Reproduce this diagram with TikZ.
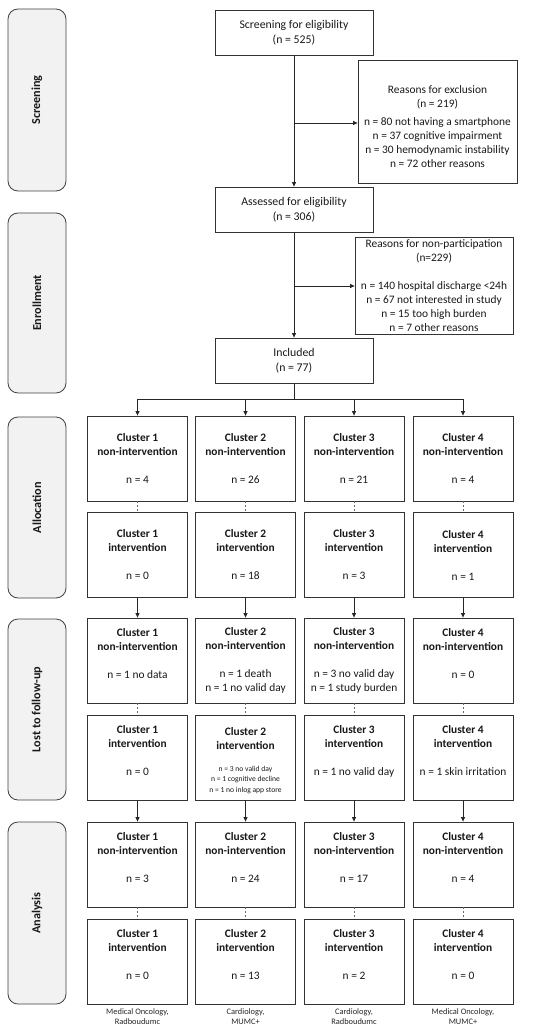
\documentclass[tikz,border=0pt]{standalone}
\usepackage{fontspec}
\setmainfont{Carlito}
\usetikzlibrary{arrows.meta}
\begin{document}
\begin{tikzpicture}[x=1pt,y=-1pt,
  box/.style={draw=black!80, line width=0.8pt, fill=white, align=center, inner sep=0pt, font=\fontsize{11.4}{14}\selectfont, text=black!90},
  bigbox/.style={box, minimum width=158pt, minimum height=45pt, font=\fontsize{11.8}{15.5}\selectfont},
  txt/.style={align=center, inner sep=0pt, font=\fontsize{11.4}{14}\selectfont, text=black!90},
  side/.style={draw=black!75, line width=0.8pt, fill=black!5, rounded corners=10pt, minimum width=58pt, inner sep=0pt},
  sidetext/.style={rotate=90, inner sep=0pt, font=\bfseries\fontsize{12.2}{14}\selectfont, text=black!90},
  cbox/.style={box, minimum width=100pt, minimum height=85pt},
  arr/.style={draw=black!85, line width=0.8pt, -{Triangle[length=4.5pt,width=4pt]}},
  ln/.style={draw=black!85, line width=0.8pt},
  dsh/.style={draw=black!60, line width=0.6pt, dash pattern=on 2pt off 2pt},
  note/.style={align=center, inner sep=0pt, font=\fontsize{8.4}{9.5}\selectfont, text=black!85}
]
\useasboundingbox (0,0) rectangle (550,1032);

% side phase boxes
\node[side, minimum height=182pt] (s1) at (37,100) {};
\node[side, minimum height=180pt] (s2) at (37,303) {};
\node[side, minimum height=181pt] (s3) at (37,507.5) {};
\node[side, minimum height=181pt] (s4) at (37,709.5) {};
\node[side, minimum height=182pt] (s5) at (37,913) {};
\begin{scope}[y=1pt]
\node[sidetext] (s1t) at (37,-100) {Screening};
\node[sidetext] (s2t) at (37,-303) {Enrollment};
\node[sidetext] (s3t) at (37,-507.5) {Allocation};
\node[sidetext] (s4t) at (37,-709.5) {Lost to follow-up};
\node[sidetext] (s5t) at (37,-913) {Analysis};
\end{scope}

% top flow
\node[bigbox] (screen) at (294,32.5) {Screening for eligibility\\(n = 525)};
\node[box, minimum width=159pt, minimum height=123pt] (excl) at (437.5,121.5) {};
\node[txt] (exclt) at (437.5,126.5) {Reasons for exclusion\\(n = 219)\\[4pt]n = 80 not having a smartphone\\n = 37 cognitive impairment\\n = 30 hemodynamic instability\\n = 72 other reasons};
\node[bigbox] (assess) at (294,209.5) {Assessed for eligibility\\(n = 306)};
\node[box, minimum width=158pt, minimum height=97pt] (nonpart) at (434,285.5) {Reasons for non-participation\\(n=229)\\[14pt]n = 140 hospital discharge <24h\\n = 67 not interested in study\\n = 15 too high burden\\n = 7 other reasons};
\node[bigbox] (incl) at (294,360.5) {Included\\(n = 77)};

\draw[arr] (screen) -- (assess);
\coordinate (b1) at (294,123);
\draw[arr] (b1) -- (excl.west |- b1);
\draw[arr] (assess) -- (incl);
\coordinate (b2) at (294,286);
\draw[arr] (b2) -- (nonpart.west |- b2);

% cluster grid
% row 1: allocation non-intervention
\node[cbox] (c11) at (137.5,458.5) {\textbf{Cluster 1}\\\textbf{non-intervention}\\[14pt]n = 4};
\node[cbox] (c12) at (245.5,458.5) {\textbf{Cluster 2}\\\textbf{non-intervention}\\[14pt]n = 26};
\node[cbox] (c13) at (354,458.5) {\textbf{Cluster 3}\\\textbf{non-intervention}\\[14pt]n = 21};
\node[cbox] (c14) at (463,458.5) {\textbf{Cluster 4}\\\textbf{non-intervention}\\[14pt]n = 4};
% row 2: allocation intervention
\node[cbox] (c21) at (137.5,555) {\textbf{Cluster 1}\\\textbf{intervention}\\[14pt]n = 0};
\node[cbox] (c22) at (245.5,555) {\textbf{Cluster 2}\\\textbf{intervention}\\[14pt]n = 18};
\node[cbox] (c23) at (354,555) {\textbf{Cluster 3}\\\textbf{intervention}\\[14pt]n = 3};
\node[cbox] (c24) at (463,555) {\textbf{Cluster 4}\\\textbf{intervention}\\[14pt]n = 1};
% row 3: lost non-intervention
\node[cbox] (c31) at (137.5,660.5) {\textbf{Cluster 1}\\\textbf{non-intervention}\\[14pt]n = 1 no data\\\phantom{n}};
\node[cbox] (c32) at (245.5,660.5) {\textbf{Cluster 2}\\\textbf{non-intervention}\\[14pt]n = 1 death\\n = 1 no valid day};
\node[cbox] (c33) at (354,660.5) {\textbf{Cluster 3}\\\textbf{non-intervention}\\[14pt]n = 3 no valid day\\n = 1 study burden};
\node[cbox] (c34) at (463,660.5) {\textbf{Cluster 4}\\\textbf{non-intervention}\\[14pt]n = 0\\\phantom{n}};
% row 4: lost intervention
\node[cbox] (c41) at (137.5,757.5) {\textbf{Cluster 1}\\\textbf{intervention}\\[14pt]n = 0\\\phantom{n}};
\node[cbox] (c42) at (245.5,757.5) {};
\node[txt] (c42a) at (245.5,739) {\textbf{Cluster 2}\\\textbf{intervention}};
\node[txt, font=\fontsize{7.6}{10.5}\selectfont] (c42b) at (245.5,780) {n = 3 no valid day\\n = 1 cognitive decline\\n = 1 no inlog app store};
\node[cbox] (c43) at (354,757.5) {\textbf{Cluster 3}\\\textbf{intervention}\\[14pt]n = 1 no valid day\\\phantom{n}};
\node[cbox] (c44) at (463,757.5) {\textbf{Cluster 4}\\\textbf{intervention}\\[14pt]n = 1 skin irritation\\\phantom{n}};
% row 5: analysis non-intervention
\node[cbox] (c51) at (137.5,864.5) {\textbf{Cluster 1}\\\textbf{non-intervention}\\[14pt]n = 3\\\phantom{n}};
\node[cbox] (c52) at (245.5,864.5) {\textbf{Cluster 2}\\\textbf{non-intervention}\\[14pt]n = 24\\\phantom{n}};
\node[cbox] (c53) at (354,864.5) {\textbf{Cluster 3}\\\textbf{non-intervention}\\[14pt]n = 17\\\phantom{n}};
\node[cbox] (c54) at (463,864.5) {\textbf{Cluster 4}\\\textbf{non-intervention}\\[14pt]n = 4\\\phantom{n}};
% row 6: analysis intervention
\node[cbox] (c61) at (137.5,961.5) {\textbf{Cluster 1}\\\textbf{intervention}\\[14pt]n = 0\\\phantom{n}};
\node[cbox] (c62) at (245.5,961.5) {\textbf{Cluster 2}\\\textbf{intervention}\\[14pt]n = 13\\\phantom{n}};
\node[cbox] (c63) at (354,961.5) {\textbf{Cluster 3}\\\textbf{intervention}\\[14pt]n = 2\\\phantom{n}};
\node[cbox] (c64) at (463,961.5) {\textbf{Cluster 4}\\\textbf{intervention}\\[14pt]n = 0\\\phantom{n}};

% site labels
\node[note] (l1) at (137.5,1016.5) {Medical Oncology,\\Radboudumc};
\node[note] (l2) at (245.5,1016.5) {Cardiology,\\MUMC+};
\node[note] (l3) at (354,1016.5) {Cardiology,\\Radboudumc};
\node[note] (l4) at (463,1016.5) {Medical Oncology,\\MUMC+};

% tree from included
\coordinate (t0) at (294,399);
\draw[ln] (incl.south) -- (t0);
\draw[ln] (c11.north |- t0) -- (c14.north |- t0);
\foreach \i in {1,2,3,4}{
  \draw[arr] (c1\i.north |- t0) -- (c1\i.north);
  \draw[dsh] (c1\i.south) -- (c2\i.north);
  \draw[arr] (c2\i.south) -- (c3\i.north);
  \draw[dsh] (c3\i.south) -- (c4\i.north);
  \draw[arr] (c4\i.south) -- (c5\i.north);
  \draw[dsh] (c5\i.south) -- (c6\i.north);
}
\end{tikzpicture}
\end{document}
